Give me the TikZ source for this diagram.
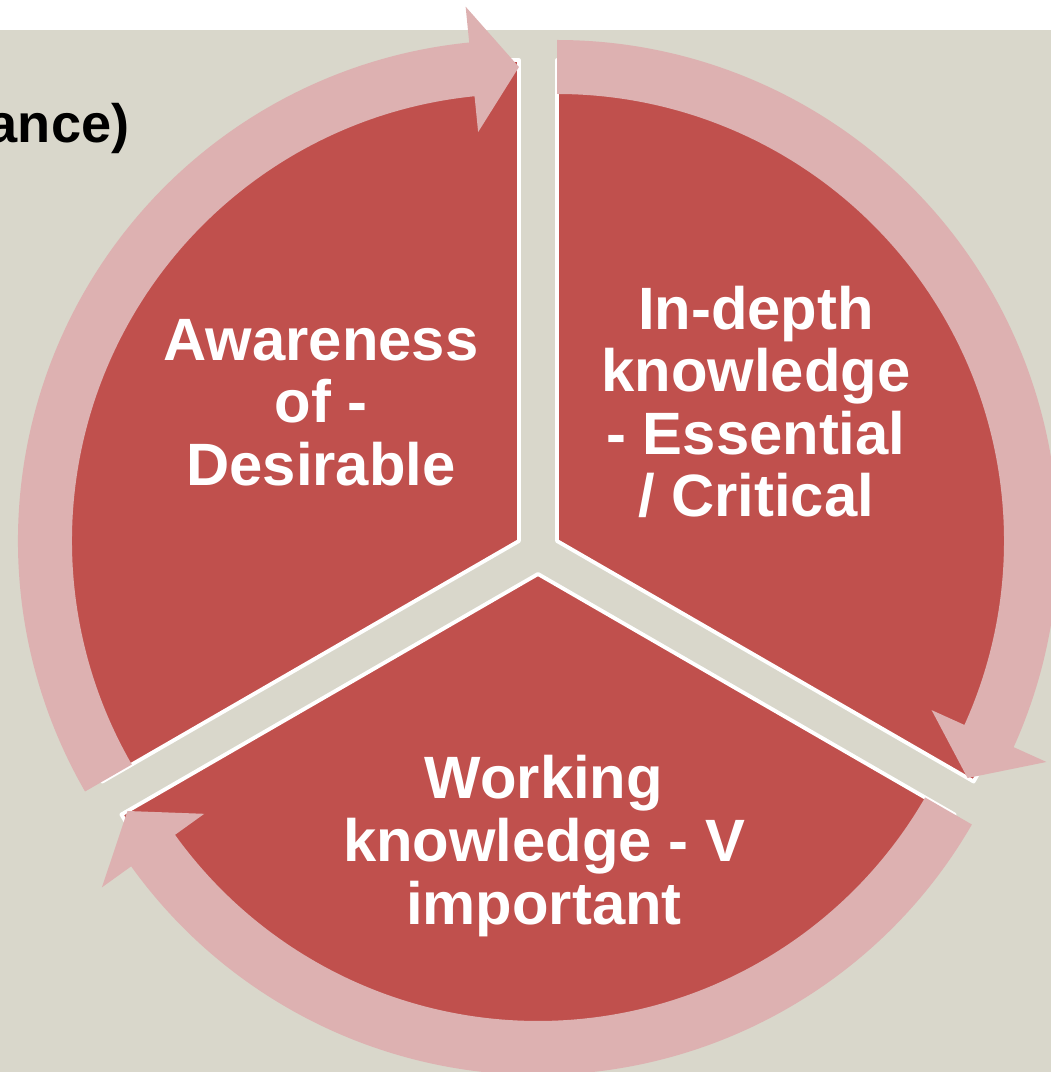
\documentclass[tikz,border=0pt]{standalone}
\usepackage{fontspec}
\setmainfont{Liberation Sans}
\definecolor{bgbeige}{HTML}{D9D7CB}
\definecolor{segred}{HTML}{C0504D}
\definecolor{ringpink}{HTML}{DDB1B1}
\tikzset{
  segment/.style={fill=segred, draw=white, line width=1.1pt, line join=round},
  ring/.style={fill=ringpink},
  segtext/.style={text=white, font=\bfseries\fontsize{17}{17.8}\selectfont, align=center}
}
\begin{document}
\begin{tikzpicture}[x=0.01cm,y=0.01cm]
  \useasboundingbox (0,0) rectangle (1051,1072);
  \clip (0,0) rectangle (1051,1072);
  \fill[bgbeige] (0,0) rectangle (1051,1042);
  \node[anchor=base east, inner sep=0, font=\bfseries\fontsize{15.4}{18}\selectfont] (title) at (130,929) {ance)};
  \coordinate (C) at (538,520);
  % pie pieces, pushed out from the middle
  \foreach \d/\nm in {30/deep, -90/work, 150/aware}{
    \pgfmathsetmacro{\s}{\d+60}
    \pgfmathsetmacro{\e}{\d-60}
    \coordinate (\nm) at ([shift={(\d:22)}]C);
    \filldraw[segment, shift={(\nm)}] (0,0) -- (\s:481) arc[start angle=\s, end angle=\e, radius=481] -- cycle;
  }
  % curved arrows round each piece
  \foreach \d/\nm in {30/deep, -90/work, 150/aware}{
    \pgfmathsetmacro{\s}{\d+60}
    \pgfmathsetmacro{\e}{\d-60}
    \pgfmathsetmacro{\h}{\e+5.7}
    \fill[ring, shift={(\nm)}] (\s:447) -- (\s:501) arc[start angle=\s, end angle=\h, radius=501]
      -- (\h:537) -- (\e:474) -- (\h:411) -- (\h:447) arc[start angle=\h, end angle=\s, radius=447] -- cycle;
  }
  \node[segtext] (awaretxt) at (321,669.5) {Awareness\\of -\\Desirable};
  \node[segtext] (deeptxt) at (756,670) {In-depth\\knowledge\\- Essential\\/ Critical};
  \node[segtext] (worktxt) at (544,226) {Working\\knowledge - V\\important};
\end{tikzpicture}
\end{document}
